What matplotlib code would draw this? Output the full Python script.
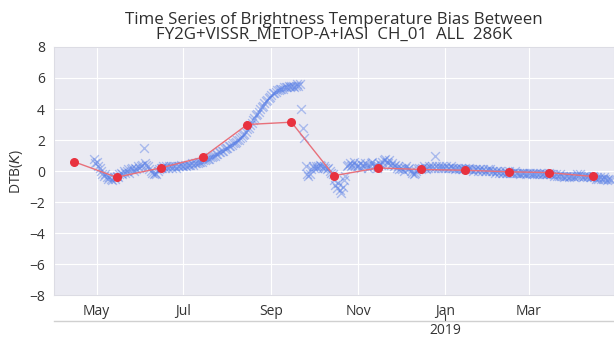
import pandas as pd
import matplotlib
matplotlib.use("Agg")
import matplotlib.pyplot as plt
import matplotlib.dates as mdates
import seaborn as sns

# monthly mean bias (red dots), plotted on the 15th of each month
MEAN_DATES = pd.date_range("2018-04-01", periods=13, freq="MS") + pd.Timedelta(days=14)
MEAN_VALUES = [0.6, -0.4, 0.2, 0.9, 3.0, 3.15, -0.3, 0.2, 0.1, 0.05, -0.05, -0.1, -0.35]

# daily bias (blue crosses) starting 2018-04-29
DAILY_START = "2018-04-29"
APR18 = [0.8, 0.5]
MAY18 = [0.6, 0.3, 0.2, 0.0, -0.2, -0.3, -0.2, -0.4, -0.5, -0.4, -0.5, -0.6, -0.4, -0.5, -0.3, -0.4,
         -0.2, -0.1, -0.2, 0.0, -0.1, 0.0, 0.1, -0.1, 0.1, 0.2, 0.0, 0.2, 0.1, 0.3, 0.2]
JUN18 = [0.3, 0.4, 1.5, 0.5, 0.4, 0.3, 0.1, 0.0, -0.1, -0.2, -0.1, -0.2, 0.0, 0.1, 0.2, 0.2,
         0.3, 0.2, 0.3, 0.2, 0.3, 0.3, 0.2, 0.3, 0.3, 0.2, 0.3, 0.3, 0.4, 0.3]
JUL18 = [0.3, 0.4, 0.3, 0.4, 0.4, 0.4, 0.5, 0.4, 0.5, 0.5, 0.5, 0.6, 0.6, 0.6, 0.7, 0.7,
         0.8, 0.8, 0.8, 0.9, 0.9, 1.0, 1.0, 1.1, 1.1, 1.2, 1.2, 1.3, 1.3, 1.4, 1.5]
AUG18 = [1.5, 1.6, 1.6, 1.7, 1.8, 1.8, 1.9, 2.0, 2.0, 2.1, 2.2, 2.3, 2.4, 2.5, 2.7, 2.8,
         3.0, 3.1, 3.3, 3.4, 3.6, 3.7, 3.8, 4.0, 4.1, 4.2, 4.4, 4.5, 4.6, 4.7, 4.8]
SEP18 = [4.9, 5.0, 5.0, 5.1, 5.2, 5.2, 5.3, 5.3, 5.3, 5.4, 5.4, 5.4, 5.5, 5.4, 5.5, 5.5,
         5.4, 5.5, 5.6, 5.5, 5.6, 4.0, 2.8, 2.1, 0.3, -0.2, -0.3, -0.2, 0.1, 0.3]
OCT18 = [0.2, 0.3, 0.2, 0.3, 0.4, 0.3, 0.2, 0.3, 0.2, 0.1, 0.2, 0.0, -0.1, -0.2, -0.6, -0.9,
         -1.1, -0.8, -1.2, -1.4, -1.0, -0.6, -0.3, 0.3, 0.4, 0.5, 0.3, 0.4, 0.6, 0.4, 0.3]
NOV18 = [0.3, 0.5, 0.2, 0.4, 0.3, 0.5, 0.4, 0.2, 0.3, 0.5, 0.6, 0.3, 0.4, 0.2, 0.3, 0.5,
         0.4, 0.6, 0.7, 0.8, 0.6, 0.5, 0.7, 0.4, 0.5, 0.3, 0.4, 0.2, 0.3, 0.1]
DEC18 = [0.2, 0.1, 0.0, 0.2, 0.3, 0.1, 0.2, 0.0, -0.1, -0.2, -0.1, 0.0, 0.1, 0.2, 0.1, 0.2,
         0.3, 0.2, 0.1, 0.2, 0.3, 0.2, 0.3, 0.2, 1.0, 0.3, 0.2, 0.3, 0.2, 0.3, 0.2]
JAN19 = [0.2, 0.3, 0.2, 0.2, 0.3, 0.2, 0.2, 0.1, 0.2, 0.2, 0.1, 0.2, 0.1, 0.1, 0.2, 0.1,
         0.1, 0.2, 0.1, 0.1, 0.0, 0.1, 0.1, 0.0, 0.1, 0.1, 0.0, 0.1, 0.0, 0.0, 0.1]
FEB19 = [0.0, 0.1, 0.0, 0.0, -0.1, 0.0, 0.0, -0.1, 0.0, -0.1, -0.1, 0.0, -0.1, -0.1,
         0.0, -0.1, -0.1, -0.1, 0.0, -0.1, -0.1, -0.1, -0.2, -0.1, -0.1, -0.1, -0.2, -0.1]
MAR19 = [-0.1, -0.1, -0.2, -0.1, -0.2, -0.1, -0.2, -0.2, -0.1, -0.2, -0.2, -0.1, -0.2, -0.2,
         -0.1, -0.2, -0.2, -0.2, -0.3, -0.2, -0.3, -0.3, -0.2, -0.3, -0.3, -0.4, -0.3, -0.3,
         -0.4, -0.3, -0.3]
APR19 = [-0.3, -0.4, -0.3, -0.2, -0.3, -0.2, -0.3, -0.4, -0.3, -0.3, -0.4, -0.3, -0.4, -0.4,
         -0.3, -0.4, -0.5, -0.4, -0.5, -0.4, -0.5, -0.5, -0.4, -0.5, -0.6, -0.5, -0.5, -0.6]

DAILY_VALUES = (APR18 + MAY18 + JUN18 + JUL18 + AUG18 + SEP18 + OCT18 + NOV18
                + DEC18 + JAN19 + FEB19 + MAR19 + APR19)
DAILY_DATES = pd.date_range(DAILY_START, periods=len(DAILY_VALUES), freq="D")

TITLE = "Time Series of Brightness Temperature Bias Between\nFY2G+VISSR_METOP-A+IASI  CH_01  ALL  286K"

sns.set_style("darkgrid")
plt.rcParams["font.family"] = ["Open Sans", "DejaVu Sans"]

fig = plt.figure(figsize=(6.14, 3.38), dpi=100)
ax = fig.add_axes([0.088, 0.127, 0.912, 0.734])

ax.scatter(DAILY_DATES, DAILY_VALUES, marker="x", s=40, color="#5a80e6",
           alpha=0.45, linewidths=1.0, zorder=2)
ax.plot(MEAN_DATES, MEAN_VALUES, color="#e8707a", lw=1.0, zorder=3)
ax.scatter(MEAN_DATES, MEAN_VALUES, s=30, color="#e8323f", zorder=4)

ax.set_xlim(pd.Timestamp("2018-04-01"), pd.Timestamp("2019-04-30"))
ax.set_ylim(-8, 8)
ax.set_yticks(range(-8, 9, 2))
ax.xaxis.set_major_locator(mdates.MonthLocator(bymonth=[1, 3, 5, 7, 9, 11]))
ax.xaxis.set_major_formatter(mdates.DateFormatter("%b"))
ax.tick_params(labelsize=10, colors="#333333", pad=3)
ax.set_ylabel("DTB($K$)", fontsize=10, color="#333333", labelpad=3)
ax.set_title(TITLE, fontsize=12.2, color="#2e2e2e", linespacing=0.9, pad=6)
for sp in ax.spines.values():
    sp.set_visible(True)
    sp.set_color("#dcdce4")
    sp.set_linewidth(0.8)

# year axis below the month labels
sec = ax.secondary_xaxis(-0.105)
sec.set_xticks([mdates.date2num(pd.Timestamp("2019-01-01"))])
sec.set_xticklabels(["2019"])
sec.tick_params(direction="in", length=5, width=0.8, labelsize=10,
                colors="#333333", pad=1)
sec.spines["bottom"].set_visible(True)
sec.spines["bottom"].set_color("#d0d0d0")
sec.spines["bottom"].set_linewidth(1.0)

fig.savefig("out.png", dpi=100)
